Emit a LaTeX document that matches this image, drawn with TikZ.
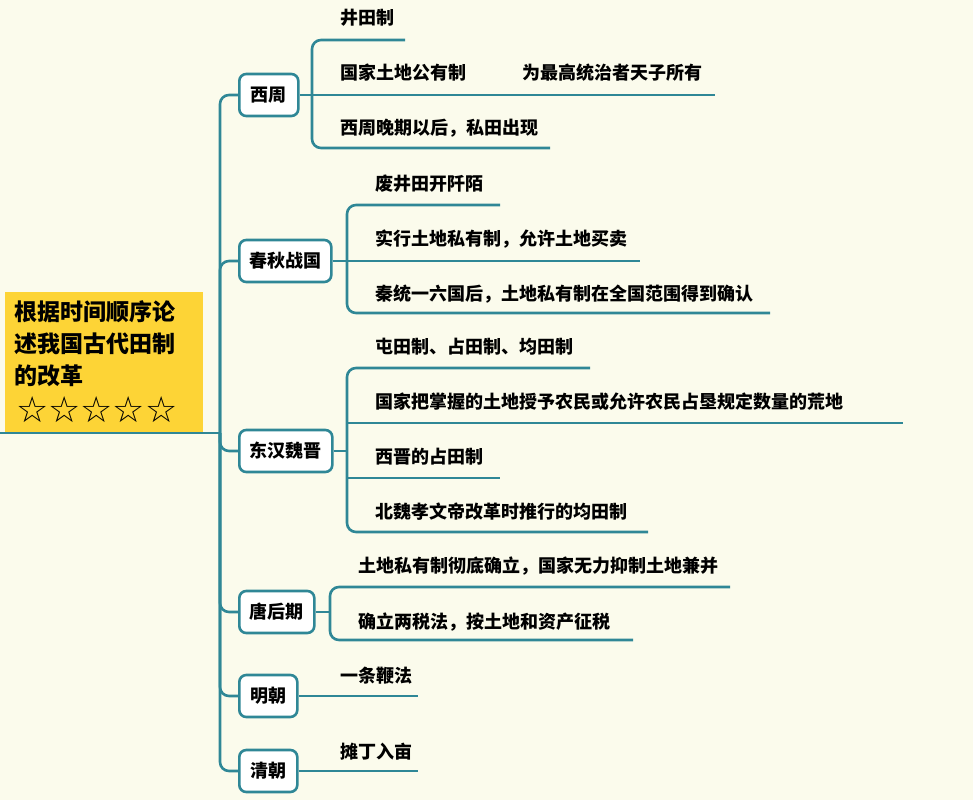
\documentclass[tikz,border=0pt]{standalone}
\usepackage{fontspec}
\setmainfont{Noto Sans CJK SC}
\newfontfamily\symfont{DejaVu Sans}
\definecolor{bg}{HTML}{FBFBEC}
\definecolor{ln}{HTML}{2F8796}
\definecolor{rootc}{HTML}{FDD436}
\begin{document}
\begin{tikzpicture}[x=1pt,y=-1pt,
  ln/.style={draw=ln,line width=2.6pt},
  br/.style={ln,rounded corners=9pt},
  period/.style={draw=ln,line width=2.6pt,fill=white,rounded corners=7pt,font=\fontsize{18}{20}\selectfont\bfseries,inner sep=0pt,minimum height=42pt,anchor=west},
  leaf/.style={anchor=west,font=\fontsize{18}{20}\selectfont\bfseries,inner sep=0pt}]
\fill[bg] (0,0) rectangle (973,800);
\useasboundingbox (0,0) rectangle (973,800);
\fill[rootc] (5,292) rectangle (203,433);
\node[anchor=north west,align=left,inner sep=0pt,font=\fontsize{23}{32}\selectfont\bfseries] (root) at (14,300) {根据时间顺序论\\述我国古代田制\\的改革};
\node[anchor=west,inner sep=0pt,font=\symfont\fontsize{36}{38}\selectfont] (stars) at (16,410) {☆☆☆☆☆};
\coordinate (j) at (220,433);
\draw[ln] (0,433) -- (j);
% period nodes
\node[period,minimum width=59pt] (xz) at (238,95) {西周};
\node[period,minimum width=92pt] (cq) at (238,261) {春秋战国};
\node[period,minimum width=93pt] (dh) at (238,451) {东汉魏晋};
\node[period,minimum width=75pt] (th) at (238,612) {唐后期};
\node[period,minimum width=58pt] (mc) at (238,696) {明朝};
\node[period,minimum width=58pt] (qc) at (238,771) {清朝};
\foreach \n in {xz,cq,dh,th,mc,qc} \draw[br] (j) |- (\n.west);
% 西周
\draw[br] (405,40) -- (312,40) -- (312,148) -- (550,148);
\draw[ln] (xz.east) -- (715,95);
\node[leaf] (a1) at (340,18) {井田制};
\node[leaf] (a2) at (340,73) {国家土地公有制};
\node[leaf] (a2b) at (522,73) {为最高统治者天子所有};
\node[leaf] (a3) at (340,128) {西周晚期以后，私田出现};
% 春秋战国
\draw[br] (500,205) -- (347,205) -- (347,313) -- (770,313);
\draw[ln] (cq.east) -- (640,261);
\node[leaf] (b1) at (375,184) {废井田开阡陌};
\node[leaf] (b2) at (375,239) {实行土地私有制，允许土地买卖};
\node[leaf] (b3) at (375,294) {秦统一六国后，土地私有制在全国范围得到确认};
% 东汉魏晋
\draw[br] (590,368) -- (347,368) -- (347,532) -- (648,532);
\draw[ln] (347,423) -- (903,423);
\draw[ln] (347,478) -- (500,478);
\draw[ln] (dh.east) -- (347,451);
\node[leaf] (c1) at (375,347) {屯田制、占田制、均田制};
\node[leaf] (c2) at (375,402) {国家把掌握的土地授予农民或允许农民占垦规定数量的荒地};
\node[leaf] (c3) at (375,457) {西晋的占田制};
\node[leaf] (c4) at (375,512) {北魏孝文帝改革时推行的均田制};
% 唐后期
\draw[br] (730,587) -- (330,587) -- (330,640) -- (633,640);
\draw[ln] (th.east) -- (330,612);
\node[leaf] (d1) at (358,566) {土地私有制彻底确立，国家无力抑制土地兼并};
\node[leaf] (d2) at (358,622) {确立两税法，按土地和资产征税};
% 明朝 清朝
\draw[ln] (mc.east) -- (418,696);
\node[leaf] (e1) at (340,676) {一条鞭法};
\draw[ln] (qc.east) -- (418,771);
\node[leaf] (f1) at (340,752) {摊丁入亩};
\end{tikzpicture}
\end{document}
